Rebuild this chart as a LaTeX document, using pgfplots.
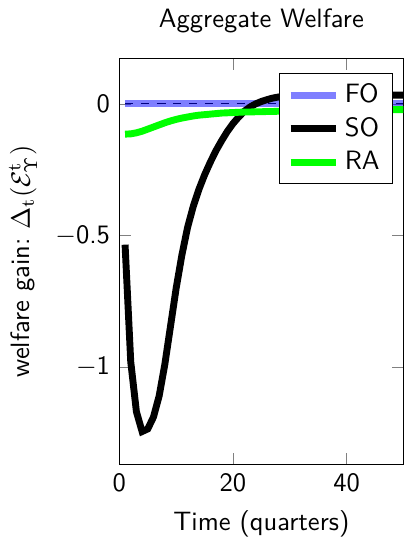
\documentclass[border=0pt]{standalone}
\usepackage{pgfplots}
\pgfplotsset{compat=1.18}
\usepackage{pgfplotstable}
\usepackage{sansmath}
\renewcommand{\familydefault}{\sfdefault}

% welfare gain by quarter
\pgfplotstableread{
t  fo  so      ra
1  0   -0.535  -0.115
2  0   -0.98   -0.114
3  0   -1.17   -0.110
4  0   -1.245  -0.104
5  0   -1.235  -0.096
6  0   -1.19   -0.088
7  0   -1.11   -0.080
8  0   -0.99   -0.072
9  0   -0.845  -0.065
10 0   -0.70   -0.059
11 0   -0.575  -0.054
12 0   -0.47   -0.050
13 0   -0.39   -0.046
14 0   -0.325  -0.043
15 0   -0.27   -0.041
16 0   -0.222  -0.039
17 0   -0.178  -0.037
18 0   -0.14   -0.035
19 0   -0.105  -0.034
20 0   -0.075  -0.033
21 0   -0.05   -0.032
22 0   -0.028  -0.031
23 0   -0.012  -0.031
24 0   0.0     -0.030
25 0   0.009   -0.030
26 0   0.016   -0.029
27 0   0.022   -0.029
28 0   0.026   -0.028
29 0   0.029   -0.028
30 0   0.031   -0.028
31 0   0.033   -0.027
32 0   0.034   -0.027
33 0   0.035   -0.027
34 0   0.035   -0.026
35 0   0.035   -0.026
36 0   0.035   -0.026
37 0   0.035   -0.025
38 0   0.035   -0.025
39 0   0.035   -0.025
40 0   0.035   -0.025
41 0   0.034   -0.024
42 0   0.034   -0.024
43 0   0.034   -0.024
44 0   0.034   -0.023
45 0   0.034   -0.023
46 0   0.033   -0.023
47 0   0.033   -0.023
48 0   0.033   -0.022
49 0   0.033   -0.022
50 0   0.033   -0.022
}\welfare

\begin{document}
\sansmath
\begin{tikzpicture}
\begin{axis}[
    width=107pt,
    height=153pt,
    scale only axis,
    xmin=0, xmax=50,
    ymin=-1.37, ymax=0.173,
    xtick={0,20,40},
    xticklabels={0,20,40},
    ytick={-1,-0.5,0},
    yticklabels={$-$1,$-$0.5,0},
    title={Aggregate Welfare},
    xlabel={Time (quarters)},
    ylabel={welfare gain:\ $\Delta_t(\mathcal{E}^t_\Upsilon)$},
    legend style={at={(0.965,0.965)}, anchor=north east},
    legend cell align=left,
]
\addplot[black, dashed, thin, forget plot] table[x=t, y=fo] {\welfare};
\addplot[blue, opacity=0.5, line width=2.6pt] table[x=t, y=fo] {\welfare};
\addlegendentry{FO}
\addplot[black, line width=2.6pt] table[x=t, y=so] {\welfare};
\addlegendentry{SO}
\addplot[green, line width=2.6pt] table[x=t, y=ra] {\welfare};
\addlegendentry{RA}
\end{axis}
\end{tikzpicture}
\end{document}
